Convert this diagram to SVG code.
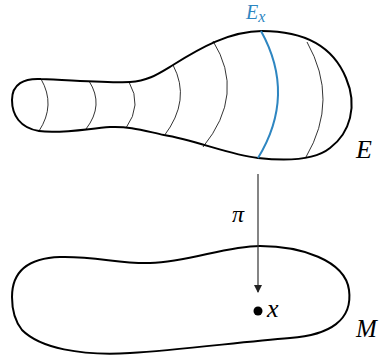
<svg xmlns="http://www.w3.org/2000/svg" width="379" height="360" viewBox="0 0 379 360">
<style>
.outline{fill:none;stroke:#000;stroke-width:2;stroke-linejoin:round}
.fiber{fill:none;stroke:#000;stroke-width:0.8}
.lbl{font-family:"Liberation Serif","DejaVu Serif",serif;font-style:italic;fill:#000}
</style>
<defs>
<marker id="ah" markerWidth="8" markerHeight="10" refX="7" refY="4" orient="auto" markerUnits="userSpaceOnUse" viewBox="0 0 8 8">
<path d="M0,0 L8,4 L0,8 Z" fill="#222"/>
</marker>
</defs>
<g id="E">
<path class="outline" d="M 12,100 C 12,84 24,78 41,79 C 70,80 110,83 130,82 C 148,81 158,74 173,65 C 200,48 230,31 262,31 C 300,31 332,44 346,78 C 358,106 350,133 330,148 C 315,160 285,161 258,158 C 230,155 195,140 164,135 C 145,131 130,126 110,127 C 85,129 60,134 39,131 C 20,128 12,115 12,100 Z"/>
<path class="fiber" d="M41,79 Q56,105 39,131"/>
<path class="fiber" d="M89,81 Q104.5,105 86,129"/>
<path class="fiber" d="M129,82 Q142.5,105 126,128"/>
<path class="fiber" d="M173,65 Q191.5,100 164,136"/>
<path class="fiber" d="M213,41 Q246,94 203,147"/>
<path class="fiber" d="M307,42 Q339.5,100 306,157"/>
<path fill="none" stroke="#2e86c1" stroke-width="2" d="M261,31 Q296.5,95 258,158"/>
<text class="lbl" x="356" y="158" font-size="26">E</text>
<text class="lbl" x="246" y="19" font-size="20" style="fill:#2e86c1">E<tspan font-size="16" dy="3">x</tspan></text>
</g>
<g id="M">
<path class="outline" d="M 12,297 C 12,270 30,258 60,257 C 95,256 120,264 150,263 C 190,262 225,246 260,246 C 300,246 345,260 349,290 C 353,320 330,335 290,338 C 240,342 180,350 130,353 C 80,356 40,348 22,330 C 14,320 12,310 12,297 Z"/>
<text class="lbl" x="356" y="337" font-size="25">M</text>
</g>
<g id="point">
<circle cx="258" cy="311" r="4.5" fill="#000"/>
<text class="lbl" x="267" y="317" font-size="26">x</text>
</g>
<g id="connectors">
<line x1="258" y1="174" x2="258" y2="292" stroke="#333" stroke-width="1.2" marker-end="url(#ah)"/>
<text class="lbl" x="232" y="222" font-size="24">π</text>
</g>
</svg>
